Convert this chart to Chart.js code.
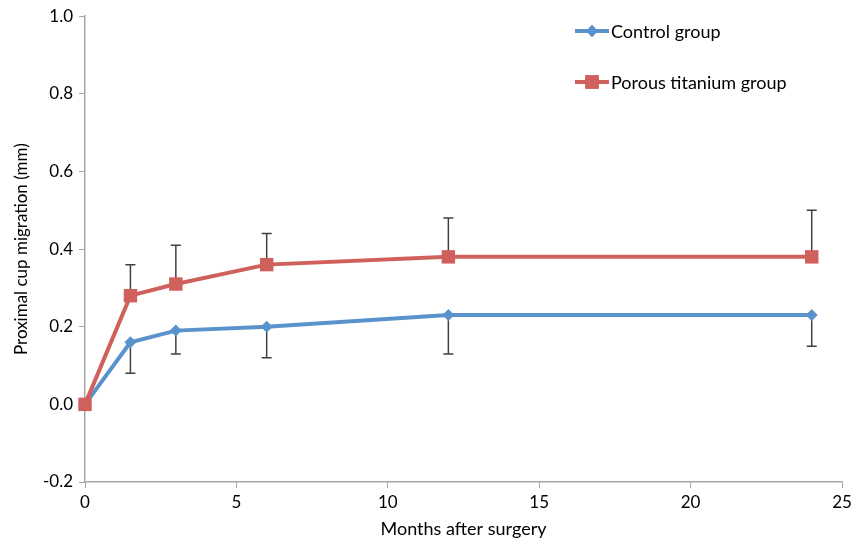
<!DOCTYPE html>
<html>
<head>
<meta charset="utf-8">
<script src="https://cdn.jsdelivr.net/npm/chart.js@4"></script>
<style>
  html, body { margin: 0; padding: 0; background: #fff; }
  #wrap { width: 862px; height: 545px; }
</style>
</head>
<body>
<div id="wrap"><canvas id="chart" width="862" height="545"></canvas></div>
<script>
// months after surgery
const months = [0, 1.5, 3, 6, 12, 24];
const controlMean = [0, 0.16, 0.19, 0.20, 0.23, 0.23];
const controlErr = [0, 0.08, 0.06, 0.08, 0.10, 0.08];   // drawn downward
const porousMean = [0, 0.28, 0.31, 0.36, 0.38, 0.38];
const porousErr = [0, 0.08, 0.10, 0.08, 0.10, 0.12];    // drawn upward

const seriesNames = ['Control group', 'Porous titanium group'];
const blue = '#5A93CC';
const red = '#D0605C';
const axisGray = '#A6A6A6';
const fontFamily = 'Lato, "Open Sans", sans-serif';

// one-sided error bars, positioned through the chart scales
const errorBars = {
    id: 'errorBars',
    beforeDatasetsDraw(chart) {
        const { ctx, scales: { x, y } } = chart;
        const groups = [
            { mean: controlMean, err: controlErr, dir: -1 },
            { mean: porousMean, err: porousErr, dir: 1 },
        ];
        ctx.save();
        ctx.strokeStyle = '#404040';
        ctx.lineWidth = 1.5;
        groups.forEach(g => {
            months.forEach((m, i) => {
                if (!g.err[i]) return;
                const px = x.getPixelForValue(m);
                const y0 = y.getPixelForValue(g.mean[i]);
                const y1 = y.getPixelForValue(g.mean[i] + g.dir * g.err[i]);
                ctx.beginPath();
                ctx.moveTo(px, y0);
                ctx.lineTo(px, y1);
                ctx.moveTo(px - 5, y1);
                ctx.lineTo(px + 5, y1);
                ctx.stroke();
            });
        });
        ctx.restore();
    },
};

// legend in the upper right: line with marker, then label
const lineLegend = {
    id: 'lineLegend',
    afterDraw(chart) {
        const { ctx } = chart;
        const items = [
            { text: seriesNames[0], color: blue, style: 'rectRot', radius: 6, y: 31 },
            { text: seriesNames[1], color: red, style: 'rect', radius: 9.5, y: 82 },
        ];
        ctx.save();
        items.forEach(it => {
            ctx.strokeStyle = it.color;
            ctx.lineWidth = 4;
            ctx.beginPath();
            ctx.moveTo(575, it.y);
            ctx.lineTo(609, it.y);
            ctx.stroke();
            ctx.fillStyle = it.color;
            Chart.helpers.drawPoint(ctx, { pointStyle: it.style, radius: it.radius, borderWidth: 0 }, 592, it.y);
            ctx.fill();
            ctx.fillStyle = '#000';
            ctx.font = '18px ' + fontFamily;
            ctx.textBaseline = 'middle';
            ctx.fillText(it.text, 611, it.y + 1);
        });
        ctx.restore();
    },
};

const ctx = document.getElementById('chart').getContext('2d');
new Chart(ctx, {
    type: 'line',
    data: {
        datasets: [
            {
                label: seriesNames[0],
                data: months.map((m, i) => ({ x: m, y: controlMean[i] })),
                borderColor: blue,
                backgroundColor: blue,
                borderWidth: 4,
                pointStyle: 'rectRot',
                pointRadius: 6,
                pointBorderWidth: 0,
                tension: 0,
                clip: false,
                order: 1,
            },
            {
                label: seriesNames[1],
                data: months.map((m, i) => ({ x: m, y: porousMean[i] })),
                borderColor: red,
                backgroundColor: red,
                borderWidth: 4,
                pointStyle: 'rect',
                pointRadius: 9.5,
                pointBorderWidth: 0,
                tension: 0,
                clip: false,
                order: 0,
            },
        ],
    },
    options: {
        responsive: false,
        animation: false,
        layout: { padding: { top: 16, right: 20 } },
        plugins: {
            legend: { display: false },
            tooltip: { enabled: false },
        },
        scales: {
            x: {
                type: 'linear',
                min: 0,
                max: 25,
                ticks: { stepSize: 5, color: '#000', font: { family: fontFamily, size: 17 }, padding: 4 },
                grid: { drawOnChartArea: false, color: axisGray, tickLength: 6 },
                border: { color: axisGray, width: 1.5 },
                title: {
                    display: true,
                    text: 'Months after surgery',
                    color: '#000',
                    font: { family: fontFamily, size: 18 },
                    padding: { top: 0, bottom: 5 },
                },
                afterFit(scale) { scale.height = 63; },
            },
            y: {
                min: -0.2,
                max: 1.0,
                ticks: {
                    stepSize: 0.2,
                    color: '#000',
                    font: { family: fontFamily, size: 17 },
                    padding: 6,
                    callback: v => (Math.abs(v) < 1e-9 ? 0 : v).toFixed(1),
                },
                grid: { drawOnChartArea: false, color: axisGray, tickLength: 6 },
                border: { color: axisGray, width: 1.5 },
                title: {
                    display: true,
                    text: 'Proximal cup migration (mm)',
                    color: '#000',
                    font: { family: fontFamily, size: 17 },
                    padding: { top: 11, bottom: 0 },
                },
                afterFit(scale) { scale.width = 85; },
            },
        },
    },
    plugins: [errorBars, lineLegend],
});
</script>
</body>
</html>
